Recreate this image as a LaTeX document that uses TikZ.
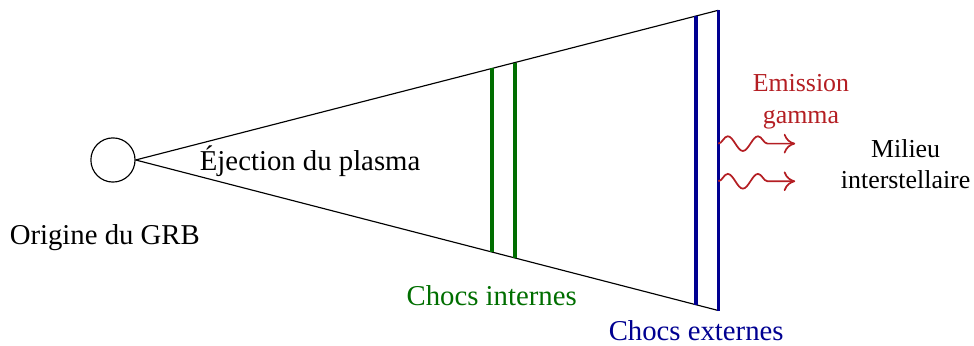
\documentclass[tikz,border=0pt]{standalone}
\usepackage{fontspec}
\setmainfont{Liberation Serif}
\usetikzlibrary{arrows.meta,positioning,calc,decorations.pathmorphing}
\definecolor{chocint}{RGB}{0,110,0}
\definecolor{chocext}{RGB}{0,0,145}
\definecolor{gam}{RGB}{180,30,35}
\tikzset{
  src/.style={circle,draw,minimum size=5.4mm,inner sep=0pt},
  lbl/.style={font=\normalsize,align=center},
  slbl/.style={font=\small,align=center},
  shockint/.style={chocint,line width=1.2pt},
  shockext/.style={chocext,line width=1.2pt},
  wave/.style={gam,semithick,-{To[length=1.4mm,width=2.4mm]},
    decorate,decoration={snake,amplitude=0.9mm,segment length=3.7mm,post length=1.8mm}},
}
\begin{document}
\begin{tikzpicture}
\useasboundingbox (-1.381,-2.262) rectangle (10.526,1.956);
% source and cone
\node[src] (orig) at (0,0) {};
\coordinate (top) at (7.40,1.83);
\coordinate (bot) at (7.40,-1.84);
\draw (orig.east) -- (top);
\draw (orig.east) -- (bot);
% internal shocks
\foreach \t/\n in {0.6115/a,0.6508/b}{
  \coordinate (it\n) at ($(orig.east)!\t!(top)$);
  \coordinate (ib\n) at ($(orig.east)!\t!(bot)$);
  \draw[shockint] (it\n) -- (ib\n);
}
% external shocks
\coordinate (et) at ($(orig.east)!0.962!(top)$);
\coordinate (eb) at ($(orig.east)!0.962!(bot)$);
\draw[shockext] (et) -- (eb);
\draw[shockext] (top) -- (bot);
% labels
\node[lbl] (origlab) at (-0.1,-0.95) {Origine du GRB};
\node[lbl] (ejlab) at (2.41,-0.02) {Éjection du plasma};
\node[lbl,text=chocint] (intlab) at (4.63,-1.66) {Chocs internes};
\node[lbl,text=chocext] (extlab) at (7.13,-2.09) {Chocs externes};
\node[slbl,text=gam] (gamlab) at (8.41,0.71) {Emission\\gamma};
\node[slbl] (mislab) at (9.69,-0.05) {Milieu\\interstellaire};
% gamma rays
\coordinate (w1s) at (7.40,0.20);
\coordinate (w1e) at (8.34,0.20);
\coordinate (w2s) at (7.40,-0.26);
\coordinate (w2e) at (8.34,-0.26);
\draw[wave] (w1s) -- (w1e);
\draw[wave] (w2s) -- (w2e);
\end{tikzpicture}
\end{document}
